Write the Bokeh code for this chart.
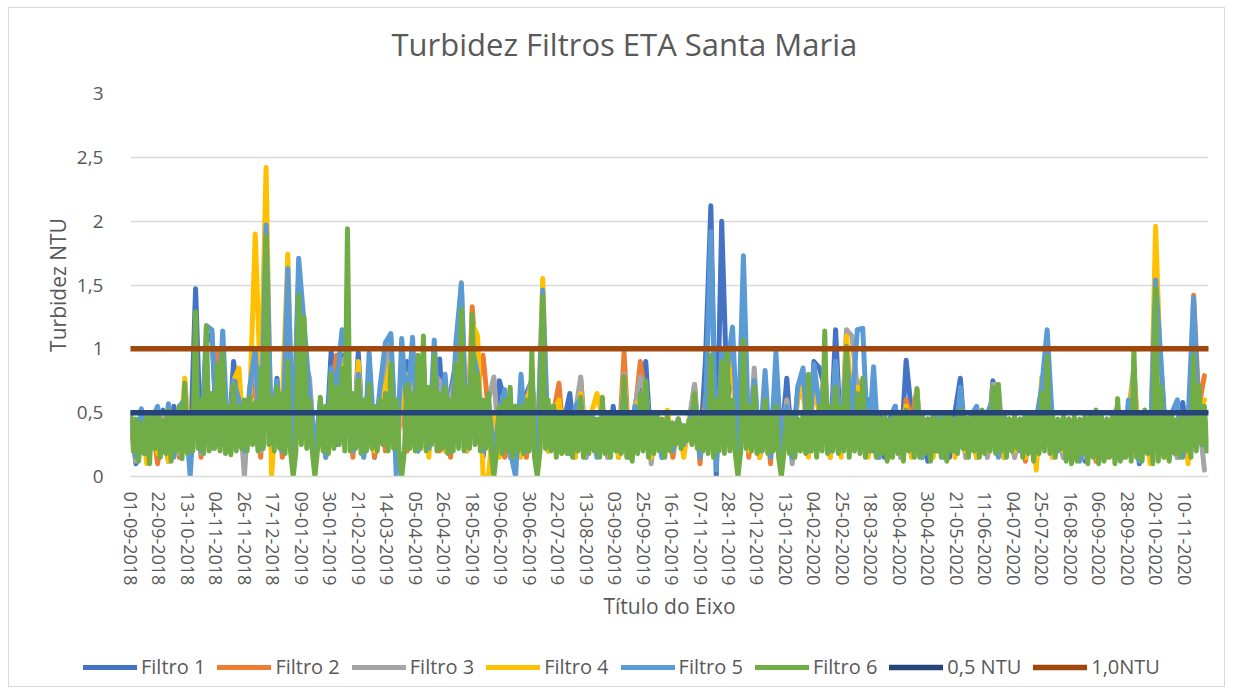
from bokeh.plotting import figure
from bokeh.models import Range1d, Legend, LegendItem, Title
from bokeh.embed import file_html
from bokeh.resources import INLINE

# ---------------- data ----------------
title_text = "Turbidez Filtros ETA Santa Maria"
y_title = "Turbidez NTU"
x_title = "Título do Eixo"

# category labels shown on the axis (every 21st day of the series)
tick_labels = ["01-09-2018", "22-09-2018", "13-10-2018", "04-11-2018", "26-11-2018",
               "17-12-2018", "09-01-2019", "30-01-2019", "21-02-2019", "14-03-2019",
               "05-04-2019", "26-04-2019", "18-05-2019", "09-06-2019", "30-06-2019",
               "22-07-2019", "13-08-2019", "03-09-2019", "25-09-2019", "16-10-2019",
               "07-11-2019", "28-11-2019", "20-12-2019", "13-01-2020", "04-02-2020",
               "25-02-2020", "18-03-2020", "08-04-2020", "30-04-2020", "21-05-2020",
               "11-06-2020", "04-07-2020", "25-07-2020", "16-08-2020", "06-09-2020",
               "28-09-2020", "20-10-2020", "10-11-2020"]
TICK_EVERY = 21
N_DAYS = 796

y_ticks = [0, 0.5, 1, 1.5, 2, 2.5, 3]
y_tick_labels = ["0", "0,5", "1", "1,5", "2", "2,5", "3"]

# Filtro 1-5 read every 4 days, Filtro 6 (top layer) every 2 days
filtro1 = [0.45, 0.10, 0.50, 0.15, 0.48, 0.20, 0.52, 0.12, 0.55, 0.18,
           0.55, 0.15, 1.47, 0.20, 1.05, 1.12, 0.25, 0.80, 0.20, 0.90,
           0.55, 0.15, 0.65, 0.80, 0.20, 0.95, 0.25, 0.77, 0.20, 1.10,
           0.15, 1.55, 0.90, 0.70, 0.15, 0.55, 0.20, 0.98, 0.25, 0.95,
           0.85, 0.20, 0.97, 0.20, 0.70, 0.15, 0.65, 0.75, 0.90, 0.20,
           0.60, 0.90, 0.55, 0.20, 0.80, 0.25, 0.75, 0.92, 0.20, 0.65,
           0.90, 1.20, 0.20, 0.95, 0.70, 0.15, 0.55, 0.20, 0.75, 0.60,
           0.15, 0.55, 0.20, 0.65, 0.75, 0.20, 1.20, 0.20, 0.55, 0.25,
           0.45, 0.65, 0.20, 0.60, 0.15, 0.50, 0.20, 0.52, 0.18, 0.55,
           0.15, 0.60, 0.20, 0.50, 0.55, 0.90, 0.20, 0.50, 0.15, 0.45,
           0.18, 0.45, 0.20, 0.40, 0.55, 0.20, 0.90, 2.12, 0.00, 2.00,
           0.60, 0.85, 0.20, 0.95, 0.20, 0.65, 0.15, 0.60, 0.20, 0.80,
           0.25, 0.77, 0.20, 0.65, 0.80, 0.25, 0.90, 0.85, 0.70, 0.20,
           1.15, 0.25, 0.85, 0.60, 0.70, 0.50, 0.60, 0.20, 0.50, 0.15,
           0.45, 0.55, 0.15, 0.91, 0.50, 0.20, 0.45, 0.12, 0.50, 0.20,
           0.45, 0.15, 0.50, 0.77, 0.20, 0.45, 0.15, 0.50, 0.20, 0.75,
           0.40, 0.15, 0.45, 0.20, 0.40, 0.15, 0.45, 0.20, 0.55, 0.60,
           0.20, 0.40, 0.15, 0.45, 0.20, 0.40, 0.12, 0.45, 0.15, 0.40,
           0.20, 0.45, 0.15, 0.50, 0.20, 0.45, 0.10, 0.42, 0.15, 0.80,
           0.85, 0.20, 0.45, 0.15, 0.58, 0.20, 0.95, 0.45, 0.20]

filtro2 = [0.40, 0.15, 0.45, 0.20, 0.42, 0.10, 0.45, 0.20, 0.48, 0.15,
           0.50, 0.20, 0.60, 0.15, 0.75, 0.25, 0.99, 0.70, 0.20, 0.65,
           0.50, 0.20, 0.60, 0.70, 0.15, 0.85, 0.20, 0.60, 0.15, 0.90,
           0.15, 1.00, 0.85, 0.55, 0.20, 0.50, 0.15, 0.68, 0.95, 0.80,
           0.90, 0.15, 0.70, 0.20, 0.60, 0.15, 0.55, 0.20, 0.75, 0.12,
           0.65, 0.20, 0.80, 0.25, 0.90, 0.20, 0.75, 0.20, 0.60, 0.15,
           0.80, 1.10, 0.20, 1.33, 0.70, 0.95, 0.50, 0.20, 0.55, 0.15,
           0.55, 0.20, 0.50, 0.15, 0.70, 0.20, 1.20, 0.20, 0.50, 0.73,
           0.20, 0.50, 0.15, 0.77, 0.20, 0.50, 0.20, 0.45, 0.15, 0.50,
           0.20, 0.97, 0.15, 0.50, 0.90, 0.60, 0.15, 0.45, 0.20, 0.45,
           0.15, 0.45, 0.20, 0.40, 0.72, 0.10, 0.60, 0.90, 0.20, 0.80,
           0.70, 0.90, 0.20, 0.85, 0.15, 0.70, 0.20, 0.65, 0.10, 0.75,
           0.20, 0.60, 0.15, 0.65, 0.70, 0.20, 0.75, 0.50, 0.80, 0.15,
           0.85, 0.20, 0.95, 0.55, 0.75, 0.60, 0.20, 0.55, 0.15, 0.45,
           0.20, 0.50, 0.15, 0.60, 0.45, 0.68, 0.15, 0.45, 0.20, 0.42,
           0.15, 0.45, 0.20, 0.50, 0.15, 0.45, 0.20, 0.48, 0.15, 0.60,
           0.45, 0.20, 0.42, 0.15, 0.45, 0.12, 0.40, 0.20, 0.60, 0.80,
           0.15, 0.40, 0.20, 0.42, 0.15, 0.40, 0.20, 0.45, 0.12, 0.40,
           0.15, 0.42, 0.50, 0.20, 0.45, 0.80, 0.20, 0.45, 0.15, 1.40,
           0.60, 0.15, 0.40, 0.20, 0.45, 0.15, 1.42, 0.55, 0.79]

filtro3 = [0.42, 0.12, 0.48, 0.15, 0.45, 0.20, 0.50, 0.12, 0.46, 0.18,
           0.55, 0.20, 0.65, 0.18, 0.80, 0.22, 0.85, 0.75, 0.20, 0.70,
           0.60, 0.00, 0.70, 0.85, 0.20, 1.00, 0.25, 0.65, 0.20, 1.05,
           0.20, 1.10, 0.95, 0.77, 0.20, 0.55, 0.20, 0.70, 0.75, 0.90,
           0.95, 0.20, 0.80, 0.20, 0.75, 0.20, 0.60, 0.80, 1.10, 0.25,
           0.70, 0.75, 0.80, 0.20, 0.85, 0.20, 0.80, 0.75, 0.25, 0.60,
           0.85, 1.52, 0.20, 1.10, 0.70, 0.20, 0.60, 0.78, 0.20, 0.50,
           0.15, 0.55, 0.20, 0.60, 0.75, 0.20, 1.30, 0.25, 0.55, 0.20,
           0.45, 0.20, 0.50, 0.78, 0.15, 0.50, 0.20, 0.50, 0.15, 0.48,
           0.20, 0.80, 0.15, 0.55, 0.78, 0.65, 0.10, 0.50, 0.20, 0.45,
           0.20, 0.42, 0.25, 0.45, 0.72, 0.15, 0.55, 0.90, 0.20, 0.85,
           0.75, 0.95, 0.20, 0.90, 0.25, 0.85, 0.15, 0.60, 0.20, 0.70,
           0.20, 0.60, 0.10, 0.65, 0.75, 0.25, 0.80, 0.50, 0.85, 0.20,
           0.90, 0.20, 1.15, 1.10, 0.70, 0.60, 0.20, 0.55, 0.15, 0.45,
           0.20, 0.45, 0.15, 0.55, 0.20, 0.65, 0.15, 0.45, 0.20, 0.42,
           0.15, 0.45, 0.20, 0.55, 0.15, 0.45, 0.20, 0.50, 0.15, 0.72,
           0.72, 0.20, 0.45, 0.15, 0.40, 0.20, 0.45, 0.12, 0.60, 0.85,
           0.20, 0.42, 0.15, 0.45, 0.20, 0.40, 0.15, 0.45, 0.20, 0.42,
           0.20, 0.45, 0.55, 0.15, 0.50, 0.85, 0.15, 0.45, 0.20, 1.40,
           0.65, 0.20, 0.45, 0.15, 0.50, 0.20, 0.90, 0.45, 0.05]

filtro4 = [0.45, 0.15, 0.48, 0.10, 0.50, 0.18, 0.45, 0.12, 0.50, 0.20,
           0.77, 0.20, 0.60, 0.20, 0.70, 0.25, 0.80, 0.70, 0.20, 0.75,
           0.85, 0.20, 0.60, 1.90, 0.65, 2.42, 0.00, 0.60, 0.60, 1.74,
           0.20, 1.00, 0.90, 0.60, 0.15, 0.55, 0.20, 0.65, 0.70, 0.85,
           0.90, 0.20, 0.90, 0.15, 0.70, 0.20, 0.55, 0.70, 0.90, 0.20,
           0.60, 0.80, 0.70, 0.25, 0.85, 0.15, 0.80, 0.60, 0.20, 0.55,
           0.80, 1.20, 0.20, 1.20, 1.10, 0.00, 0.00, 0.50, 0.15, 0.55,
           0.20, 0.50, 0.15, 0.60, 0.70, 0.20, 1.55, 0.20, 0.50, 0.60,
           0.20, 0.50, 0.15, 0.65, 0.20, 0.50, 0.65, 0.45, 0.20, 0.50,
           0.15, 0.75, 0.20, 0.55, 0.60, 0.70, 0.15, 0.50, 0.20, 0.52,
           0.20, 0.45, 0.15, 0.45, 0.60, 0.20, 0.55, 0.85, 0.10, 0.85,
           0.70, 0.85, 0.15, 0.90, 0.20, 0.65, 0.15, 0.55, 0.20, 0.70,
           0.15, 0.55, 0.20, 0.60, 0.70, 0.15, 0.75, 0.50, 0.80, 0.15,
           0.80, 0.15, 1.10, 0.60, 0.70, 0.65, 0.15, 0.50, 0.20, 0.40,
           0.15, 0.45, 0.20, 0.55, 0.15, 0.60, 0.20, 0.45, 0.15, 0.42,
           0.20, 0.45, 0.15, 0.50, 0.20, 0.45, 0.15, 0.50, 0.20, 0.65,
           0.60, 0.15, 0.45, 0.20, 0.40, 0.15, 0.50, 0.05, 0.78, 0.70,
           0.15, 0.40, 0.20, 0.45, 0.15, 0.40, 0.20, 0.42, 0.15, 0.45,
           0.20, 0.40, 0.50, 0.20, 0.45, 0.80, 0.15, 0.45, 0.10, 1.96,
           0.70, 0.15, 0.45, 0.20, 0.50, 0.10, 0.85, 0.50, 0.60]

filtro5 = [0.50, 0.15, 0.53, 0.18, 0.45, 0.55, 0.20, 0.57, 0.15, 0.55,
           0.60, 0.00, 0.70, 0.20, 1.18, 1.15, 0.30, 1.14, 0.22, 0.75,
           0.60, 0.20, 0.70, 1.00, 0.22, 1.97, 0.30, 0.75, 0.20, 1.63,
           0.15, 1.71, 1.20, 0.65, 0.20, 0.60, 0.15, 0.85, 0.70, 1.15,
           0.90, 0.20, 0.80, 0.15, 0.97, 0.25, 0.70, 1.05, 1.12, 0.00,
           1.08, 0.50, 1.09, 0.20, 0.85, 0.22, 1.07, 0.25, 0.80, 0.20,
           1.05, 1.51, 0.25, 1.00, 0.80, 0.20, 0.60, 0.15, 0.50, 0.68,
           0.20, 0.00, 0.80, 0.20, 0.60, 0.15, 1.46, 0.25, 0.55, 0.20,
           0.50, 0.18, 0.55, 0.60, 0.20, 0.50, 0.15, 0.55, 0.25, 0.50,
           0.20, 0.70, 0.15, 0.55, 0.50, 0.70, 0.20, 0.50, 0.15, 0.45,
           0.20, 0.45, 0.25, 0.42, 0.60, 0.15, 0.50, 1.92, 0.05, 1.00,
           0.85, 1.17, 0.20, 1.73, 0.25, 0.75, 0.20, 0.83, 0.15, 0.97,
           0.20, 0.55, 0.15, 0.70, 0.85, 0.20, 0.88, 0.55, 0.75, 0.20,
           0.90, 0.25, 0.95, 0.50, 1.15, 1.16, 0.20, 0.86, 0.15, 0.50,
           0.18, 0.55, 0.20, 0.50, 0.25, 0.60, 0.15, 0.45, 0.20, 0.50,
           0.15, 0.50, 0.20, 0.70, 0.25, 0.48, 0.55, 0.20, 0.50, 0.60,
           0.15, 0.50, 0.22, 0.45, 0.20, 0.50, 0.25, 0.45, 0.70, 1.15,
           0.40, 0.20, 0.45, 0.15, 0.40, 0.12, 0.45, 0.20, 0.42, 0.15,
           0.45, 0.20, 0.50, 0.15, 0.60, 0.45, 0.12, 0.50, 0.20, 1.54,
           0.90, 0.20, 0.50, 0.60, 0.15, 0.45, 1.40, 0.40, 0.25]

filtro6 = [0.48, 0.20, 0.45, 0.12, 0.42, 0.18, 0.50, 0.10, 0.46, 0.22,
           0.50, 0.15, 0.44, 0.18, 0.52, 0.12, 0.47, 0.20, 0.55, 0.14,
           0.73, 0.18, 0.50, 0.20, 1.29, 0.22, 0.60, 0.18, 1.18, 0.20,
           0.65, 0.22, 0.88, 0.20, 0.96, 0.18, 0.55, 0.17, 0.72, 0.20,
           0.55, 0.22, 0.60, 0.20, 0.62, 0.25, 0.58, 0.20, 0.85, 0.22,
           1.88, 0.25, 0.62, 0.20, 0.70, 0.22, 0.65, 0.18, 0.90, 0.20,
           0.00, 0.20, 1.42, 0.25, 1.25, 0.22, 0.60, 0.20, 0.00, 0.22,
           0.62, 0.20, 0.55, 0.18, 0.80, 0.22, 0.70, 0.25, 0.85, 0.20,
           1.94, 0.20, 0.65, 0.22, 0.75, 0.18, 0.60, 0.20, 0.72, 0.22,
           0.55, 0.20, 0.60, 0.25, 0.65, 0.20, 0.88, 0.22, 0.60, 0.20,
           0.00, 0.20, 0.72, 0.22, 0.65, 0.20, 0.95, 0.22, 1.10, 0.20,
           0.70, 0.25, 0.95, 0.20, 0.65, 0.22, 0.70, 0.18, 0.60, 0.20,
           0.88, 0.22, 1.31, 0.20, 0.70, 0.22, 1.27, 0.25, 0.80, 0.20,
           0.60, 0.22, 0.65, 0.20, 0.00, 0.20, 0.55, 0.18, 0.60, 0.20,
           0.70, 0.15, 0.55, 0.20, 0.55, 0.18, 0.60, 0.20, 0.98, 0.15,
           0.00, 0.20, 1.41, 0.22, 0.60, 0.20, 0.55, 0.15, 0.50, 0.18,
           0.50, 0.18, 0.48, 0.15, 0.50, 0.20, 0.62, 0.15, 0.48, 0.18,
           0.50, 0.20, 0.45, 0.15, 0.62, 0.18, 0.48, 0.15, 0.50, 0.20,
           0.48, 0.18, 0.78, 0.15, 0.50, 0.12, 0.48, 0.18, 0.65, 0.20,
           0.75, 0.15, 0.50, 0.18, 0.48, 0.20, 0.45, 0.15, 0.46, 0.20,
           0.42, 0.25, 0.45, 0.22, 0.40, 0.28, 0.44, 0.25, 0.65, 0.22,
           0.45, 0.20, 0.50, 0.18, 0.95, 0.15, 0.60, 0.20, 0.90, 0.18,
           1.00, 0.20, 0.60, 0.18, 0.00, 0.20, 1.07, 0.22, 0.55, 0.20,
           0.70, 0.18, 0.50, 0.20, 0.60, 0.18, 0.50, 0.20, 0.55, 0.15,
           0.00, 0.20, 0.48, 0.18, 0.50, 0.15, 0.45, 0.20, 0.50, 0.18,
           0.80, 0.20, 0.50, 0.15, 0.55, 0.20, 1.14, 0.18, 0.55, 0.20,
           0.70, 0.18, 0.55, 0.20, 1.02, 0.15, 0.50, 0.20, 0.65, 0.18,
           0.77, 0.15, 0.48, 0.20, 0.50, 0.15, 0.46, 0.18, 0.48, 0.12,
           0.45, 0.15, 0.50, 0.18, 0.48, 0.12, 0.52, 0.20, 0.46, 0.15,
           0.69, 0.15, 0.48, 0.18, 0.45, 0.12, 0.48, 0.20, 0.45, 0.15,
           0.48, 0.12, 0.50, 0.20, 0.45, 0.18, 0.52, 0.22, 0.46, 0.15,
           0.50, 0.20, 0.48, 0.15, 0.52, 0.18, 0.50, 0.20, 0.70, 0.18,
           0.72, 0.20, 0.48, 0.15, 0.45, 0.20, 0.48, 0.22, 0.45, 0.15,
           0.50, 0.18, 0.48, 0.12, 0.50, 0.18, 0.65, 0.20, 0.94, 0.18,
           0.50, 0.15, 0.45, 0.22, 0.48, 0.12, 0.45, 0.10, 0.48, 0.12,
           0.45, 0.18, 0.50, 0.10, 0.48, 0.15, 0.52, 0.10, 0.48, 0.12,
           0.45, 0.15, 0.48, 0.10, 0.61, 0.12, 0.50, 0.15, 0.48, 0.12,
           1.00, 0.15, 0.50, 0.12, 0.52, 0.18, 0.48, 0.10, 1.47, 0.12,
           0.70, 0.15, 0.50, 0.12, 0.48, 0.18, 0.45, 0.15, 0.50, 0.20,
           0.45, 0.15, 0.95, 0.20, 0.71, 0.25, 0.55, 0.20]

series_names = ["Filtro 1", "Filtro 2", "Filtro 3", "Filtro 4", "Filtro 5", "Filtro 6"]
series_values = [filtro1, filtro2, filtro3, filtro4, filtro5, filtro6]
series_steps = [4, 4, 4, 4, 4, 2]
series_colors = ["#4472C4", "#ED7D31", "#A5A5A5", "#FFC000", "#5B9BD5", "#70AD47"]

limit_names = ["0,5 NTU", "1,0NTU"]
limit_values = [0.5, 1.0]
limit_colors = ["#264478", "#9E480E"]

FONT = "Open Sans"
TEXT = "#595959"
EDGE = "1px solid #D9D9D9"
SERIES_W = 5
LIMIT_W = 5.5

# ---------------- main chart ----------------
p = figure(width=1217, height=630, output_backend="svg", toolbar_location=None,
           x_range=Range1d(0, N_DAYS - 1), y_range=Range1d(0, 3),
           min_border_left=121, min_border_right=18, min_border_top=85,
           min_border_bottom=162)
p.margin = (7, 0, 0, 8)
p.styles = {"border-top": EDGE, "border-left": EDGE, "border-right": EDGE}

p.title.text = title_text
p.title.align = "left"
p.title.offset = 261
p.title.standoff = 10
p.title.text_font = FONT
p.title.text_font_size = "31px"
p.title.text_font_style = "normal"
p.title.text_color = TEXT
# empty spacer between the title and the plot area
p.add_layout(Title(text=" ", text_font_size="1px", standoff=21), "above")

p.outline_line_color = None
p.background_fill_color = "white"
p.border_fill_color = "white"

p.xgrid.visible = False
p.ygrid.grid_line_color = "#D9D9D9"
p.ygrid.grid_line_width = 1.5

xt = [i * TICK_EVERY for i in range(len(tick_labels))]
p.xaxis.ticker = xt
p.xaxis.major_label_overrides = {t: lab for t, lab in zip(xt, tick_labels)}
p.xaxis.major_label_orientation = "vertical"
p.xaxis.major_label_standoff = 9
p.xaxis.major_label_text_font = FONT
p.xaxis.major_label_text_font_size = "18px"
p.xaxis.major_label_text_color = TEXT
p.xaxis.axis_line_color = "#D9D9D9"
p.xaxis.axis_line_width = 1.5
p.xaxis.major_tick_line_color = None
p.xaxis.minor_tick_line_color = None
p.xaxis.axis_label = x_title
p.xaxis.axis_label_standoff = 4
p.xaxis.axis_label_text_font = FONT
p.xaxis.axis_label_text_font_size = "21px"
p.xaxis.axis_label_text_font_style = "normal"
p.xaxis.axis_label_text_color = TEXT

p.yaxis.ticker = y_ticks
p.yaxis.major_label_overrides = {t: lab for t, lab in zip(y_ticks, y_tick_labels)}
p.yaxis.major_label_standoff = 21
p.yaxis.major_label_text_font = FONT
p.yaxis.major_label_text_font_size = "19px"
p.yaxis.major_label_text_color = TEXT
p.yaxis.axis_line_color = None
p.yaxis.major_tick_line_color = None
p.yaxis.minor_tick_line_color = None
p.yaxis.axis_label = y_title
p.yaxis.axis_label_standoff = 2
p.yaxis.axis_label_text_font = FONT
p.yaxis.axis_label_text_font_size = "21px"
p.yaxis.axis_label_text_font_style = "normal"
p.yaxis.axis_label_text_color = TEXT

for vals, step, col in zip(series_values, series_steps, series_colors):
    xs = [step * i for i in range(len(vals))]
    p.line(xs, vals, line_color=col, line_width=SERIES_W,
           line_join="round", line_cap="round")

for v, col in zip(limit_values, limit_colors):
    p.line([0, N_DAYS - 1], [v, v], line_color=col, line_width=LIMIT_W,
           line_cap="round")

# ---------------- legend strip (separate root, full-width frame) ----------------
lg = figure(width=1217, height=50, output_backend="svg", toolbar_location=None,
            x_range=Range1d(0, 1), y_range=Range1d(0, 1),
            x_axis_type=None, y_axis_type=None, min_border=0)
lg.margin = (0, 0, 0, 8)
lg.styles = {"border-bottom": EDGE, "border-left": EDGE, "border-right": EDGE}
lg.outline_line_color = None
lg.grid.visible = False
lg.background_fill_color = "white"
lg.border_fill_color = "white"

# legend-only renderers, placed outside the strip's visible range
items = []
for name, col in zip(series_names, series_colors):
    r = lg.line([5, 6], [5, 6], line_color=col, line_width=SERIES_W, line_cap="round")
    items.append(LegendItem(label=name, renderers=[r]))
for name, col in zip(limit_names, limit_colors):
    r = lg.line([5, 6], [5, 6], line_color=col, line_width=LIMIT_W, line_cap="round")
    items.append(LegendItem(label=name, renderers=[r]))

legend = Legend(items=items, location=(74, 7), orientation="horizontal",
                glyph_width=54, glyph_height=20, label_standoff=4, spacing=12,
                padding=0, margin=0, border_line_color=None,
                background_fill_alpha=0,
                label_text_font=FONT, label_text_font_size="20px",
                label_text_color=TEXT)
lg.add_layout(legend)

open("out.html", "w").write(file_html([p, lg], INLINE))
